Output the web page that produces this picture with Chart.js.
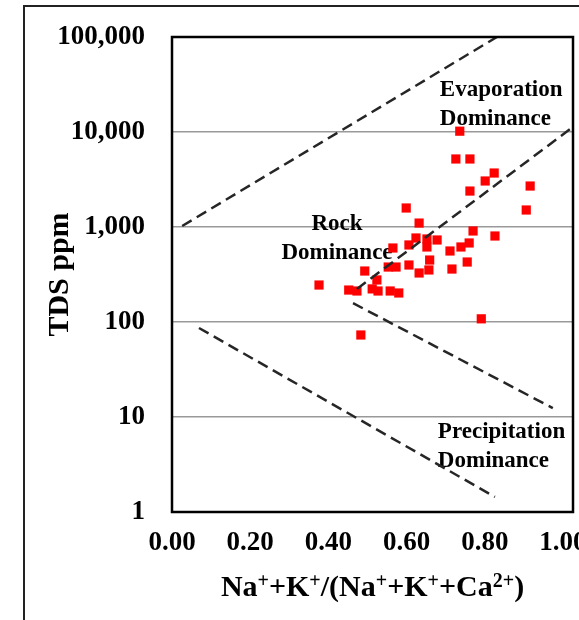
<!DOCTYPE html>
<html>
<head>
<meta charset="utf-8">
<script src="https://cdn.jsdelivr.net/npm/chart.js@4.4.1/dist/chart.umd.min.js"></script>
<style>
  html, body { margin: 0; padding: 0; background: #fff; overflow: hidden; }
  #wrap { width: 640px; height: 620px; }
</style>
</head>
<body>
<div id="wrap"><canvas id="gibbs" width="640" height="620"></canvas></div>
<script>
// samples: Na+K/(Na+K+Ca) ratio and TDS (ppm)
const cationRatio = [0.736, 0.726, 0.762, 0.824, 0.801, 0.916, 0.762, 0.906, 0.599, 0.632,
  0.770, 0.826, 0.624, 0.652, 0.678, 0.652, 0.606, 0.565, 0.711, 0.739,
  0.760, 0.755, 0.716, 0.659, 0.657, 0.632, 0.606, 0.573, 0.553, 0.493,
  0.376, 0.452, 0.473, 0.512, 0.527, 0.524, 0.558, 0.580, 0.791, 0.483];
const tdsPpm = [10200, 5200, 5200, 3700, 3050, 2700, 2390, 1510, 1585, 1100,
  908, 804, 766, 748, 730, 616, 647, 601, 559, 616,
  679, 428, 361, 449, 353, 328, 398, 379, 379, 344,
  245, 217, 212, 223, 212, 277, 212, 202, 108, 73];

// dashed boundary lines (x ends, y ends)
const evapUpperX = [0.026, 0.831];
const evapUpperY = [1025, 100000];
const evapLowerX = [0.473, 1.0256];
const evapLowerY = [223, 11300];
const precipUpperX = [0.463, 0.974];
const precipUpperY = [158, 12.4];
const precipLowerX = [0.069, 0.826];
const precipLowerY = [86.5, 1.44];

const xMax = 1.0256;
const xTickValues = [0, 0.2, 0.4, 0.6, 0.8, 1.0];
const yTickValues = [1, 10, 100, 1000, 10000, 100000];

const regionNames = [['Evaporation', 'Dominance'], ['Rock', 'Dominance'], ['Precipitation', 'Dominance']];

// x axis title, pieces flagged as superscript or not
const xTitleParts = [['Na', 0], ['+', 1], ['+K', 0], ['+', 1], ['/(Na', 0], ['+', 1], ['+K', 0], ['+', 1], ['+Ca', 0], ['2+', 1], [')', 0]];

const serif = '"Liberation Serif", "Times New Roman", serif';

function pairs(xs, ys) {
  return xs.map((x, i) => ({ x: x, y: ys[i] }));
}

function dashed(xs, ys) {
  return {
    type: 'scatter',
    data: pairs(xs, ys),
    showLine: true,
    borderColor: '#262626',
    borderWidth: 2.5,
    borderDash: [11, 6],
    pointRadius: 0,
    fill: false,
    order: 0
  };
}

const gibbsDecor = {
  id: 'gibbsDecor',
  beforeDraw(chart) {
    const ctx = chart.ctx;
    ctx.save();
    ctx.fillStyle = '#fff';
    ctx.fillRect(0, 0, chart.width, chart.height);
    ctx.strokeStyle = '#222';
    ctx.lineWidth = 2;
    ctx.strokeRect(24, 6, chart.width, chart.height);
    ctx.restore();
  },
  beforeDatasetsDraw(chart) {
    const ctx = chart.ctx;
    const xs = chart.scales.x, ys = chart.scales.y;
    // anchor of each label block in data units (x, first baseline y)
    const anchors = [
      { x: 0.685, y: 23950, align: 'left' },
      { x: 0.422, y: 930, align: 'center' },
      { x: 0.680, y: 6.0, align: 'left' }
    ];
    ctx.save();
    ctx.font = 'bold 23px ' + serif;
    ctx.fillStyle = '#000';
    ctx.textBaseline = 'alphabetic';
    regionNames.forEach((lines, i) => {
      const a = anchors[i];
      ctx.textAlign = a.align;
      const px = xs.getPixelForValue(a.x);
      const py = ys.getPixelForValue(a.y);
      lines.forEach((t, j) => ctx.fillText(t, px, py + j * 29));
    });
    ctx.restore();
  },
  afterDatasetsDraw(chart) {
    const a = chart.chartArea, ctx = chart.ctx;
    ctx.save();
    ctx.strokeStyle = '#000';
    ctx.lineWidth = 2.5;
    ctx.strokeRect(a.left, a.top, a.right - a.left, a.bottom - a.top);

    // x title with real superscripts
    const big = 'bold 30px ' + serif, small = 'bold 20px ' + serif;
    let total = 0;
    xTitleParts.forEach(p => { ctx.font = p[1] ? small : big; total += ctx.measureText(p[0]).width; });
    let x = (a.left + a.right) / 2 - total / 2;
    const base = 596;
    ctx.fillStyle = '#000';
    ctx.textAlign = 'left';
    ctx.textBaseline = 'alphabetic';
    xTitleParts.forEach(p => {
      ctx.font = p[1] ? small : big;
      ctx.fillText(p[0], x, p[1] ? base - 9 : base);
      x += ctx.measureText(p[0]).width;
    });
    ctx.restore();
  }
};

new Chart(document.getElementById('gibbs'), {
  type: 'scatter',
  data: {
    datasets: [
      {
        data: pairs(cationRatio, tdsPpm),
        pointStyle: 'rect',
        pointRadius: 6.5,
        pointBorderWidth: 0,
        backgroundColor: '#ff0000',
        borderColor: '#ff0000',
        order: 1
      },
      dashed(evapUpperX, evapUpperY),
      dashed(evapLowerX, evapLowerY),
      dashed(precipUpperX, precipUpperY),
      dashed(precipLowerX, precipLowerY)
    ]
  },
  options: {
    responsive: false,
    animation: false,
    layout: { padding: { top: 37, right: 67, bottom: 0, left: 0 } },
    plugins: { legend: { display: false }, tooltip: { enabled: false } },
    scales: {
      x: {
        type: 'linear',
        min: 0,
        max: xMax,
        afterBuildTicks: s => { s.ticks = xTickValues.map(v => ({ value: v })); },
        afterFit: s => { s.height = 108; },
        grid: { display: false, drawTicks: false },
        border: { display: false },
        ticks: {
          autoSkip: false,
          maxRotation: 0,
          padding: 15,
          color: '#000',
          font: { family: serif, size: 27, weight: 'bold' },
          callback: v => Number(v).toFixed(2)
        }
      },
      y: {
        type: 'logarithmic',
        min: 1,
        max: 100000,
        afterBuildTicks: s => { s.ticks = yTickValues.map(v => ({ value: v })); },
        afterFit: s => {
          s.width = 172;
          // the big label padding should not push the plot down
          s.paddingTop = 0;
          s.paddingBottom = 0;
        },
        grid: { color: '#999', lineWidth: 1.5, drawTicks: false },
        border: { display: false },
        ticks: {
          autoSkip: false,
          padding: 27,
          color: '#000',
          font: { family: serif, size: 27, weight: 'bold' },
          callback: v => Number(v).toLocaleString('en-US')
        },
        title: {
          display: true,
          text: 'TDS ppm',
          color: '#000',
          font: { family: serif, size: 30, weight: 'bold' },
          padding: { top: 42, bottom: 0 }
        }
      }
    }
  },
  plugins: [gibbsDecor]
});
</script>
</body>
</html>
